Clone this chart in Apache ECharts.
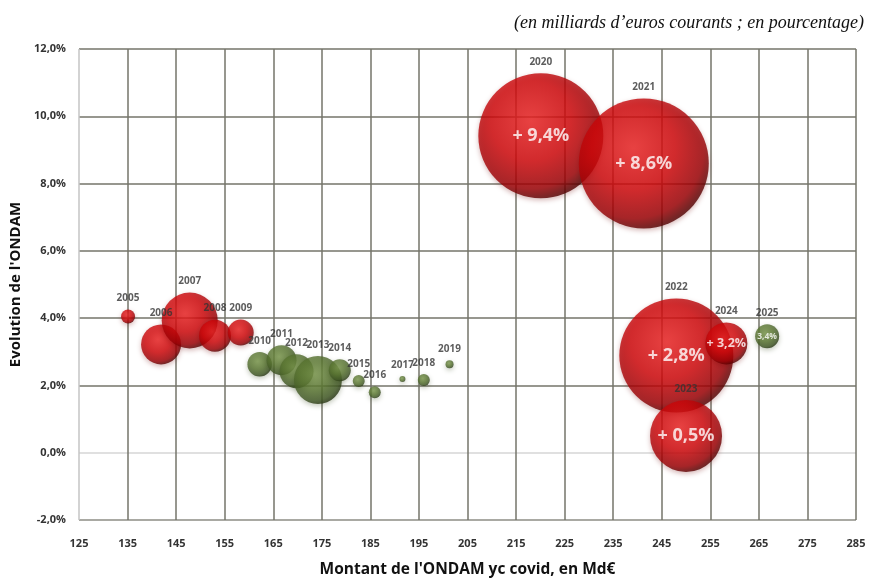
<!DOCTYPE html>
<html>
<head>
<meta charset="utf-8">
<script src="https://cdn.jsdelivr.net/npm/echarts@6/dist/echarts.min.js"></script>
<style>html,body{margin:0;padding:0;background:#fff}#c{width:879px;height:583px}</style>
</head>
<body>
<div id="c"></div>
<script>
// ---- Data ----
const annees = ['2005','2006','2007','2008','2009','2010','2011','2012','2013','2014','2015','2016','2017','2018','2019','2020','2021','2022','2023','2024','2025'];
const montant = [135.1,141.9,147.8,153.0,158.3,162.2,166.7,169.8,174.2,178.7,182.6,185.9,191.6,196.0,201.3,220.1,241.3,248.0,250.0,258.3,266.7];
const evolution = [4.05,3.22,3.93,3.48,3.57,2.63,2.75,2.42,2.16,2.45,2.13,1.80,2.19,2.16,2.63,9.42,8.60,2.89,0.50,3.25,3.46];
const poids = [49,400,784,256,169,150,225,289,576,121,36,36,9,36,16,3906,4225,3249,1296,441,144];
const groupe = ['R','R','R','R','R','V','V','V','V','V','V','V','V','V','V','R','R','R','R','R','V'];
const etiquettes = ['','','','','','','','','','','','','','','','+ 9,4%','+ 8,6%','+ 2,8%','+ 0,5%','+ 3,2%','3,4%'];
const xTicks = {min:125, max:285, step:10};
const yTicks = {min:-2, max:12, step:2};

// ---- Styles ----
const redGrad = {type:'radial', x:0.42, y:0.38, r:0.64, colorStops:[
  {offset:0, color:'#ec2424'},{offset:0.5, color:'#d0070a'},{offset:0.85, color:'#9a0004'},{offset:1, color:'#500000'}]};
const greenGrad = {type:'radial', x:0.42, y:0.38, r:0.64, colorStops:[
  {offset:0, color:'#7a974c'},{offset:0.5, color:'#5a7631'},{offset:0.85, color:'#405724'},{offset:1, color:'#243210'}]};
const diam = w => 2 * Math.sqrt(w);
const FONT = 'Open Sans';

const mainData = annees.map((a, i) => ({
  value: [montant[i], evolution[i], poids[i]],
  name: a,
  itemStyle: {
    color: groupe[i] === 'R' ? redGrad : greenGrad,
    shadowColor: groupe[i] === 'R' ? 'rgba(110,0,0,0.35)' : 'rgba(40,60,10,0.35)',
    shadowBlur: 5, shadowOffsetY: 2
  }
}));
const innerData = annees.map((a, i) => {
  const r = Math.sqrt(poids[i]);
  return {
    value: [montant[i], evolution[i], poids[i]],
    name: etiquettes[i],
    label: {fontSize: r > 30 ? 18 : (r > 15 ? 12.5 : 8.5)}
  };
});

const gridDark = '#75756a';
const chart = echarts.init(document.getElementById('c'), null, {renderer:'canvas'});
chart.setOption({
  animation: false,
  backgroundColor: '#fff',
  title: {
    text: "(en milliards d’euros courants ; en pourcentage)",
    right: 10, top: 9,
    textStyle: {fontFamily:'Liberation Serif', fontStyle:'italic', fontWeight:'normal', fontSize:18, color:'#111'}
  },
  grid: {left: 79, right: 23, top: 49, bottom: 59},
  xAxis: {
    type: 'value', min: xTicks.min, max: xTicks.max, interval: xTicks.step,
    name: "Montant de l'ONDAM yc covid, en Md€",
    nameLocation: 'middle', nameGap: 42,
    nameTextStyle: {fontFamily:FONT, fontWeight:'bold', fontSize:15.5, color:'#111'},
    axisLine: {show:false}, axisTick: {show:false},
    axisLabel: {margin: 18, fontFamily:FONT, fontSize:11, color:'#333', fontWeight:'bold'},
    splitLine: {show:true, lineStyle:{width:1.5, color:['#c4c4c4',gridDark,gridDark,gridDark,gridDark,gridDark,gridDark,gridDark,gridDark,gridDark,gridDark,gridDark,gridDark,gridDark,gridDark,gridDark,gridDark]}}
  },
  yAxis: {
    type: 'value', min: yTicks.min, max: yTicks.max, interval: yTicks.step,
    name: "Evolution de l'ONDAM",
    nameLocation: 'middle', nameGap: 51, nameRotate: 90,
    nameTextStyle: {fontFamily:FONT, fontWeight:'bold', fontSize:15, color:'#111'},
    axisLine: {show:false}, axisTick: {show:false},
    axisLabel: {margin: 13, fontFamily:FONT, fontSize:11, color:'#333', fontWeight:'bold',
      formatter: v => v.toFixed(1).replace('.', ',') + '%'},
    splitLine: {show:true, lineStyle:{width:1.5, color:['#8c8c84','#d6d6d6',gridDark,gridDark,gridDark,gridDark,gridDark,gridDark]}}
  },
  series: [
    {
      type: 'scatter',
      data: mainData,
      symbolSize: v => diam(v[2]),
      label: {show:true, position:'top', distance:6, formatter: p => p.name,
        fontFamily:FONT, fontSize:10, color:'#333', fontWeight:'bold'},
      emphasis: {disabled:true}
    },
    {
      type: 'scatter',
      data: innerData,
      symbolSize: v => diam(v[2]),
      itemStyle: {color: 'rgba(0,0,0,0)'},
      silent: true,
      label: {show:true, position:'inside', formatter: p => p.name,
        fontFamily:FONT, fontWeight:'bold', color:'#fff'},
      emphasis: {disabled:true}
    }
  ]
});
</script>
</body>
</html>
